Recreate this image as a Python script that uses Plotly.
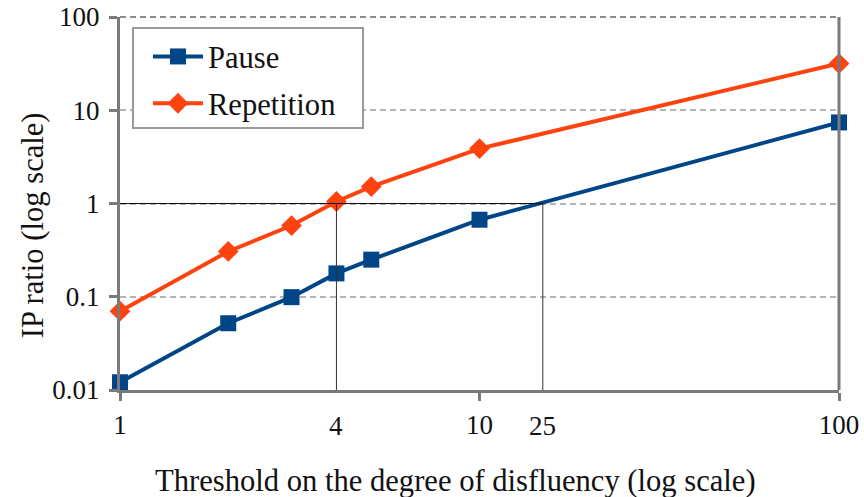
import math
import plotly.graph_objects as go

# Thresholds on the degree of disfluency and the IP ratios for each feature
thresholds = [1, 2, 3, 4, 5, 10, 100]
pause = [0.0121, 0.052, 0.099, 0.178, 0.25, 0.67, 7.4]
repetition = [0.070, 0.306, 0.58, 1.05, 1.52, 3.88, 31.7]

# Reference lines where the ratios reach 1
cross_x = [4, 15]
cross_labels = ["4", "25"]
ratio_level = 1

major_ticks = [1, 10, 100]
x_ticktext = ["1", "10", "100"]
y_ticks = [0.01, 0.1, 1, 10, 100]
y_ticktext = ["0.01", "0.1", "1", "10", "100"]

x_title = "Threshold on the degree of disfluency (log scale)"
y_title = "IP ratio (log scale)"

FONT = "Liberation Serif"
FS_TICK = 27
FS_TEXT = 30.6
BLUE = "#004586"
ORANGE = "#ff420e"
AXIS = "#7a7a7a"
GRID = "#b4b4b4"
INK = "#111111"

fig = go.Figure()

fig.add_trace(go.Scatter(
    x=thresholds, y=pause, name="Pause", mode="lines+markers",
    line=dict(color=BLUE, width=4),
    marker=dict(symbol="square", size=16, color=BLUE),
    cliponaxis=False, legendgroup="p",
))
fig.add_trace(go.Scatter(
    x=thresholds, y=repetition, name="Repetition", mode="lines+markers",
    line=dict(color=ORANGE, width=4),
    marker=dict(symbol="diamond", size=16, color=ORANGE),
    cliponaxis=False, legendgroup="r",
))

# thin guide lines: horizontal at ratio 1, vertical drops to the x axis
fig.add_shape(type="line", xref="x", yref="y", x0=1, x1=max(cross_x),
              y0=ratio_level, y1=ratio_level, line=dict(color=INK, width=1), layer="above")
for cx, lab in zip(cross_x, cross_labels):
    fig.add_shape(type="line", xref="x", yref="y", x0=cx, x1=cx,
                  y0=0.01, y1=ratio_level, line=dict(color="#333333", width=1), layer="above")
    # annotations on a log axis are placed in log10 units
    fig.add_annotation(x=math.log10(cx), y=0, xref="x", yref="paper", text=lab, showarrow=False,
                       yanchor="top", yshift=-19, font=dict(family=FONT, size=FS_TICK, color=INK))

# frame: dashed top edge, solid right edge
fig.add_shape(type="line", xref="paper", yref="paper", x0=0, x1=1, y0=1, y1=1,
              line=dict(color="#8a8a8a", width=2, dash="6px,4px"))
fig.add_shape(type="line", xref="paper", yref="paper", x0=1, x1=1, y0=0, y1=1,
              line=dict(color=AXIS, width=3))

# legend frame (white box that hides the grid behind the legend)
fig.add_shape(type="rect", xref="paper", yref="paper", x0=0.0181, x1=0.338, y0=0.7024, y1=0.9705,
              line=dict(color="#9a9a9a", width=2), fillcolor="white", layer="above")

# axis titles
fig.add_annotation(text=x_title, xref="paper", yref="paper", x=0.466, y=-0.244,
                   xanchor="center", yanchor="middle", showarrow=False,
                   font=dict(family=FONT, size=FS_TEXT, color=INK))
fig.add_annotation(text=y_title, xref="paper", yref="paper", x=-0.121, y=0.442,
                   xanchor="center", yanchor="middle", textangle=-90, showarrow=False,
                   font=dict(family=FONT, size=FS_TEXT, color=INK))

fig.update_layout(
    width=864, height=497,
    margin=dict(l=120, r=25, t=17, b=107),
    paper_bgcolor="white", plot_bgcolor="white",
    font=dict(family=FONT, size=FS_TICK, color=INK),
    showlegend=True,
    legend=dict(
        x=0.0389, y=0.965, xanchor="left", yanchor="top",
        borderwidth=0, bgcolor="rgba(0,0,0,0)",
        traceorder="grouped", tracegroupgap=4, itemwidth=50,
        font=dict(family=FONT, size=FS_TEXT, color=INK),
    ),
    xaxis=dict(
        type="log", range=[0, 2], automargin=False,
        tickvals=major_ticks, ticktext=x_ticktext,
        ticks="outside", ticklen=8, tickwidth=3, tickcolor=AXIS,
        ticklabelstandoff=1,
        tickfont=dict(family=FONT, size=FS_TICK, color=INK),
        showline=True, linecolor=AXIS, linewidth=3,
        showgrid=False, zeroline=False,
    ),
    yaxis=dict(
        type="log", range=[-2, 2], automargin=False,
        tickvals=y_ticks, ticktext=y_ticktext,
        ticks="outside", ticklen=8, tickwidth=3, tickcolor=AXIS,
        ticklabelstandoff=4,
        tickfont=dict(family=FONT, size=FS_TICK, color=INK),
        showline=True, linecolor=AXIS, linewidth=3,
        showgrid=True, gridcolor=GRID, gridwidth=2, griddash="6px,4px",
        zeroline=False,
    ),
)

fig.write_html("out.html")
